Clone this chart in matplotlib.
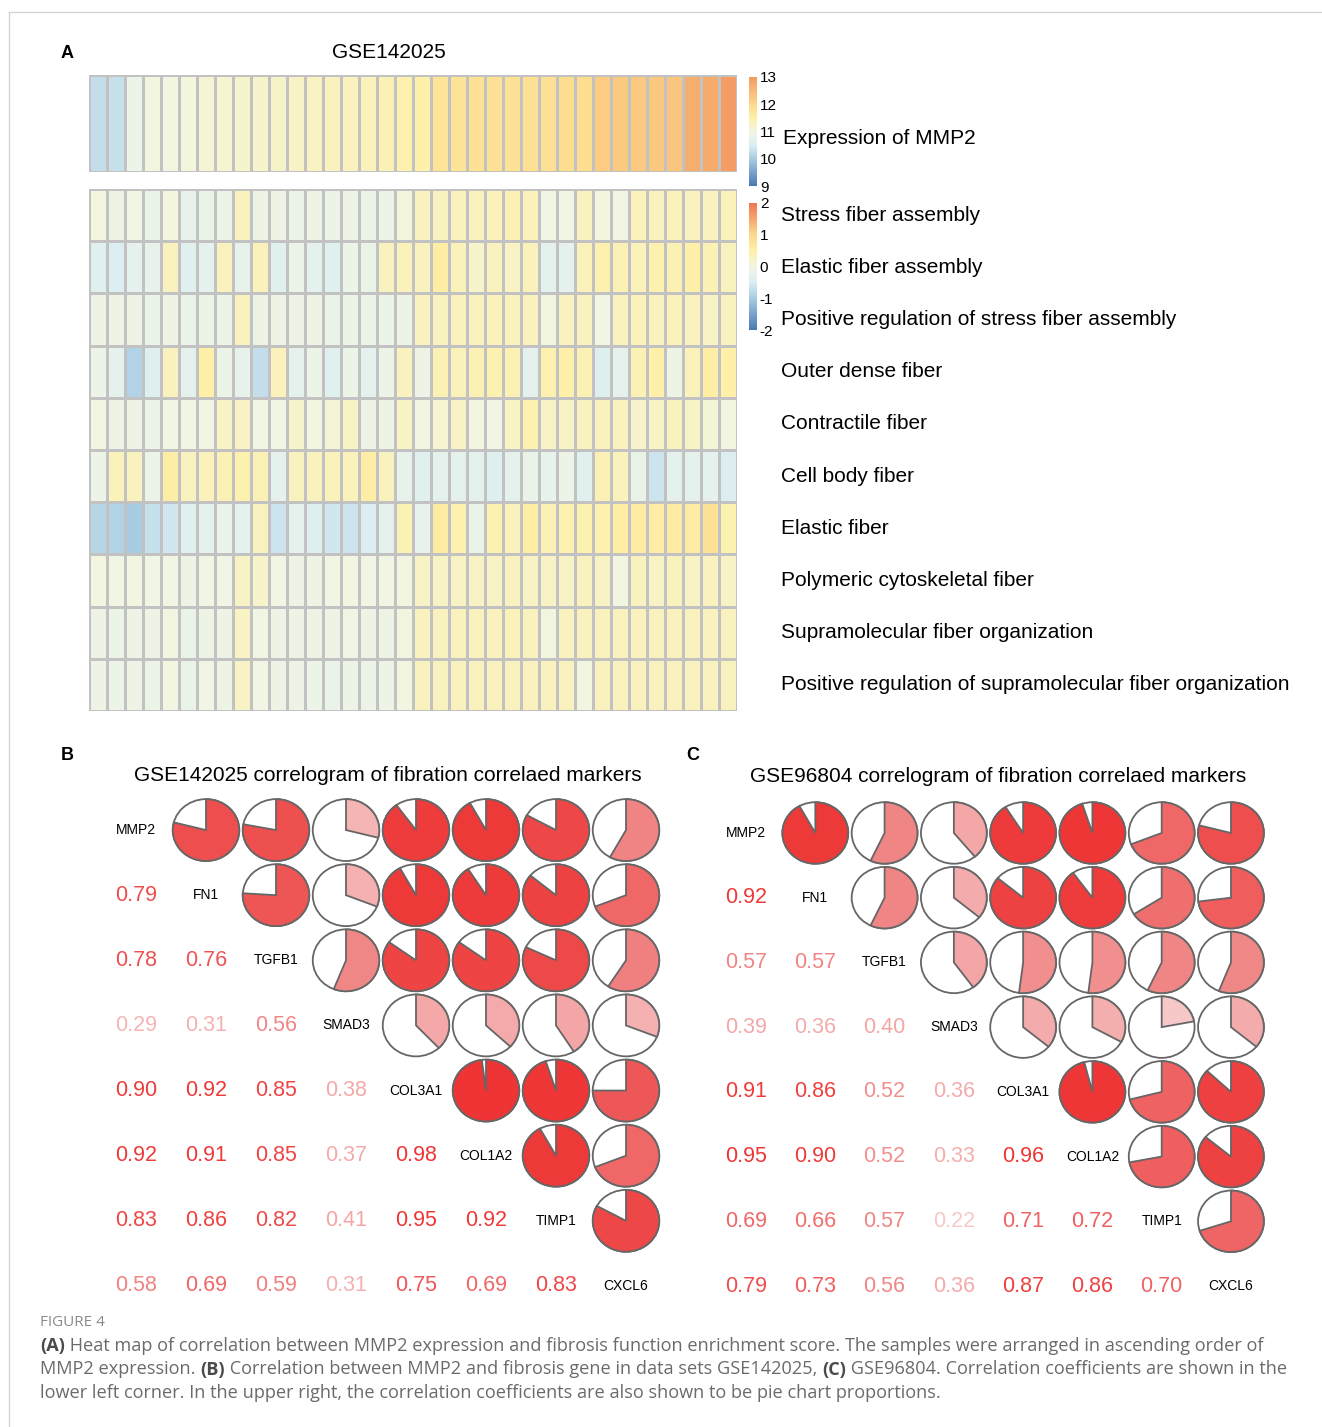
import numpy as np
import matplotlib
matplotlib.use('Agg')
import matplotlib.pyplot as plt
from matplotlib.colors import LinearSegmentedColormap, Normalize
from matplotlib.cm import ScalarMappable
from matplotlib.patches import Wedge, Circle
from matplotlib.lines import Line2D

plt.rcParams['font.family'] = ['Liberation Sans', 'DejaVu Sans']
plt.rcParams['axes.unicode_minus'] = False

W, H = 1322, 1427

# ---- panel A data: MMP2 expression (samples sorted ascending) ----
mmp2_expr = [10.25, 10.3, 10.85, 11.0, 11.02, 11.05, 11.12, 11.15, 11.18, 11.2, 11.22, 11.25,
             11.27, 11.3, 11.33, 11.35, 11.38, 11.45, 11.48, 11.75, 11.78, 11.8, 11.8, 11.82,
             11.85, 11.85, 11.88, 11.9, 12.2, 12.22, 12.24, 12.26, 12.3, 12.68, 12.72, 12.95]

terms = ['Stress fiber assembly', 'Elastic fiber assembly',
         'Positive regulation of stress fiber assembly', 'Outer dense fiber',
         'Contractile fiber', 'Cell body fiber', 'Elastic fiber',
         'Polymeric cytoskeletal fiber', 'Supramolecular fiber organization',
         'Positive regulation of supramolecular fiber organization']

stress_fiber_assembly = [0.05, -0.1, -0.05, -0.2, 0.05, -0.25, -0.2, -0.15, 0.3, -0.1, -0.1, -0.15,
                         -0.1, -0.15, -0.1, -0.15, -0.15, 0.05, 0.3, 0.3, 0.3, 0.3, 0.35, 0.4,
                         0.35, -0.05, -0.05, 0.3, 0.05, -0.05, 0.35, 0.3, 0.35, 0.3, 0.3, 0.35]
elastic_fiber_assembly = [-0.4, -0.5, -0.3, -0.25, 0.3, -0.4, -0.3, 0.3, -0.25, 0.35, -0.4, -0.15,
                          -0.3, -0.4, -0.15, -0.2, 0.3, 0.35, 0.3, 0.55, 0.35, 0.2, 0.3, 0.25,
                          0.35, -0.3, -0.3, 0.35, 0.45, 0.4, 0.35, 0.45, 0.4, 0.5, 0.4, 0.3]
pos_reg_stress_fiber = [-0.1, -0.1, -0.1, -0.2, -0.1, -0.2, -0.1, -0.15, 0.3, -0.1, -0.1, -0.1,
                        -0.1, -0.2, -0.1, -0.15, -0.15, -0.1, 0.3, 0.3, 0.3, 0.3, 0.35, 0.3,
                        0.3, 0.0, 0.3, 0.3, -0.05, 0.3, 0.35, 0.3, 0.35, 0.3, 0.25, 0.3]
outer_dense_fiber = [-0.15, -0.3, -0.9, -0.45, 0.3, -0.3, 0.5, -0.15, -0.25, -0.75, 0.35, -0.3,
                     -0.15, -0.4, -0.15, -0.3, -0.15, 0.3, -0.1, 0.4, 0.35, 0.4, 0.45, 0.4,
                     -0.3, 0.45, 0.5, 0.4, -0.45, -0.3, 0.4, 0.5, -0.1, 0.35, 0.55, 0.5]
contractile_fiber = [0.0, -0.1, -0.1, -0.15, -0.05, -0.05, -0.05, 0.25, 0.25, -0.05, -0.05, 0.2,
                     0.0, 0.1, 0.25, -0.1, -0.1, 0.25, 0.0, 0.15, 0.25, 0.0, -0.05, 0.25,
                     0.45, 0.25, 0.25, 0.3, 0.3, 0.3, 0.2, 0.25, 0.3, 0.25, 0.1, 0.0]
cell_body_fiber = [-0.15, 0.35, 0.3, -0.15, 0.55, 0.3, 0.35, 0.4, 0.45, 0.4, -0.3, 0.3,
                   0.3, 0.35, 0.35, 0.55, 0.3, -0.25, -0.4, -0.3, -0.3, -0.3, -0.45, -0.3,
                   -0.2, -0.25, -0.15, -0.4, 0.4, 0.35, -0.2, -0.65, -0.3, -0.3, -0.3, -0.5]
elastic_fiber = [-0.85, -0.9, -1.0, -0.7, -0.6, -0.4, -0.3, -0.2, -0.3, 0.3, -0.65, -0.3,
                 -0.45, -0.6, -0.65, -0.5, -0.3, 0.4, -0.25, 0.6, 0.45, -0.2, 0.45, 0.35,
                 0.55, 0.4, 0.45, 0.45, 0.45, 0.55, 0.6, 0.55, 0.6, 0.6, 0.8, 0.45]
polymeric_fiber = [0.0, -0.05, 0.0, -0.05, -0.05, -0.1, -0.05, -0.05, 0.25, 0.2, -0.05, -0.1,
                   -0.1, -0.05, 0.0, -0.05, -0.05, 0.0, 0.25, 0.25, 0.25, 0.25, 0.25, 0.3,
                   0.25, 0.25, 0.25, 0.3, 0.25, 0.0, 0.3, 0.25, 0.3, 0.25, 0.3, 0.25]
supramolecular_org = [-0.1, -0.15, -0.1, -0.1, 0.0, -0.2, -0.1, -0.1, 0.25, -0.05, -0.1, -0.1,
                      -0.1, -0.1, -0.05, -0.1, -0.1, 0.0, 0.3, 0.3, 0.3, 0.3, 0.3, 0.35,
                      0.3, 0.0, 0.3, 0.3, 0.3, 0.3, 0.3, 0.3, 0.3, 0.3, 0.3, 0.3]
pos_reg_supramolecular = [-0.1, -0.15, -0.1, -0.15, 0.0, -0.2, -0.05, -0.1, 0.25, -0.05, -0.1, -0.1,
                          -0.15, -0.2, -0.1, -0.15, -0.1, 0.0, 0.3, 0.3, 0.3, 0.3, 0.3, 0.3,
                          0.3, 0.3, 0.3, 0.0, 0.3, 0.3, 0.3, 0.3, 0.3, 0.3, 0.3, 0.3]

# ---- panels B / C data: lower-triangle correlation coefficients ----
genes = ['MMP2', 'FN1', 'TGFB1', 'SMAD3', 'COL3A1', 'COL1A2', 'TIMP1', 'CXCL6']
gse142025_lower = [[0.79],
                   [0.78, 0.76],
                   [0.29, 0.31, 0.56],
                   [0.90, 0.92, 0.85, 0.38],
                   [0.92, 0.91, 0.85, 0.37, 0.98],
                   [0.83, 0.86, 0.82, 0.41, 0.95, 0.92],
                   [0.58, 0.69, 0.59, 0.31, 0.75, 0.69, 0.83]]
gse96804_lower = [[0.92],
                  [0.57, 0.57],
                  [0.39, 0.36, 0.40],
                  [0.91, 0.86, 0.52, 0.36],
                  [0.95, 0.90, 0.52, 0.33, 0.96],
                  [0.69, 0.66, 0.57, 0.22, 0.71, 0.72],
                  [0.79, 0.73, 0.56, 0.36, 0.87, 0.86, 0.70]]


def fx(px):
    return px / W


def fy(py):
    return 1 - py / H


def ax_px(left, top, right, bottom):
    return [fx(left), fy(bottom), (right - left) / W, (bottom - top) / H]


def anchored_cmap(name, vmin, vmax, stops):
    pts = [((v - vmin) / (vmax - vmin), c) for v, c in stops]
    return LinearSegmentedColormap.from_list(name, pts)


expr_cmap = anchored_cmap('expr', 9, 13, [(9, '#4A78B5'), (10, '#A8CCE2'), (10.5, '#DCEEF2'),
                                          (11, '#F2F6E2'), (11.5, '#FEF0A9'), (12, '#FDD98A'),
                                          (13, '#F39A62')])
score_cmap = anchored_cmap('score', -2, 2, [(-2, '#4A78B5'), (-1, '#A8CCE2'), (-0.5, '#DCEEF2'),
                                            (0, '#F2F6E2'), (0.5, '#FEF0A9'), (1, '#FDD98A'),
                                            (2, '#EE7550')])
corr_cmap = anchored_cmap('corr', 0, 1, [(0, '#FFFFFF'), (0.2, '#F8CDCD'), (0.3, '#F5B2B2'),
                                         (0.4, '#F4A6A6'), (0.55, '#F08A8A'), (0.7, '#EF6565'),
                                         (0.78, '#EE5050'), (0.9, '#EE3B3B'), (1.0, '#EE3232')])

fig = plt.figure(figsize=(W / 100, H / 100), dpi=100)

# frame lines
fig.add_artist(Line2D([fx(9), 1], [fy(12), fy(12)], color='#D4D4D4', lw=1))
fig.add_artist(Line2D([fx(9), fx(9)], [fy(12), 0], color='#D4D4D4', lw=1))

# ---- panel A ----
fig.text(fx(67), fy(54), 'A', fontsize=13, fontweight='bold', ha='center', va='center')
fig.text(fx(389), fy(53), 'GSE142025', fontsize=15, ha='center', va='center')

grid_color = '#C2C2C2'
n_samples = len(mmp2_expr)

ax_top = fig.add_axes(ax_px(89, 75, 737, 172))
ax_top.pcolormesh(np.arange(n_samples + 1), [0, 1], np.array([mmp2_expr]), cmap=expr_cmap,
                  vmin=9, vmax=13, edgecolors=grid_color, linewidth=1)
ax_top.set_xlim(0, n_samples)
ax_top.set_ylim(0, 1)
ax_top.axis('off')

scores = np.array([stress_fiber_assembly, elastic_fiber_assembly, pos_reg_stress_fiber,
                   outer_dense_fiber, contractile_fiber, cell_body_fiber, elastic_fiber,
                   polymeric_fiber, supramolecular_org, pos_reg_supramolecular])
ax_hm = fig.add_axes(ax_px(89, 189, 737, 711))
ax_hm.pcolormesh(np.arange(n_samples + 1), np.arange(len(terms) + 1), scores, cmap=score_cmap,
                 vmin=-2, vmax=2, edgecolors=grid_color, linewidth=1)
ax_hm.set_xlim(0, n_samples)
ax_hm.set_ylim(len(terms), 0)
ax_hm.axis('off')
label_trans = matplotlib.transforms.blended_transform_factory(
    matplotlib.transforms.IdentityTransform(), ax_hm.transData)
for i, term in enumerate(terms):
    ax_hm.text(781, i + 0.5, term, fontsize=15, va='center', ha='left', transform=label_trans)

fig.text(fx(783), fy(139), 'Expression of MMP2', fontsize=15, va='center', ha='left')

cax1 = fig.add_axes(ax_px(749, 77, 757, 186))
cb1 = fig.colorbar(ScalarMappable(Normalize(9, 13), expr_cmap), cax=cax1, ticks=[9, 10, 11, 12, 13])
cax2 = fig.add_axes(ax_px(749, 203, 757, 330))
cb2 = fig.colorbar(ScalarMappable(Normalize(-2, 2), score_cmap), cax=cax2, ticks=[-2, -1, 0, 1, 2])
for cb in (cb1, cb2):
    cb.outline.set_visible(False)
    cb.ax.tick_params(length=0, labelsize=11, pad=2)


# ---- panels B and C: correlograms ----
def correlogram(box, lower, title, title_xy, label, label_xy):
    n = len(genes)
    mat = np.eye(n)
    for i, row in enumerate(lower, start=1):
        for j, v in enumerate(row):
            mat[i, j] = v
            mat[j, i] = v
    ax = fig.add_axes(ax_px(*box))
    ax.set_xlim(0, n)
    ax.set_ylim(0, n)
    ax.axis('off')
    r = 0.475
    for i in range(n):
        yc = n - i - 0.5
        for j in range(n):
            xc = j + 0.5
            v = mat[i, j]
            if i == j:
                ax.text(xc, yc, genes[i], fontsize=10, ha='center', va='center')
            elif i > j:
                ax.text(xc, yc, f'{v:.2f}', fontsize=15.5, ha='center', va='center',
                        color=corr_cmap(v))
            else:
                ax.add_patch(Circle((xc, yc), r, facecolor='white', edgecolor='#666666', lw=1.3))
                ax.add_patch(Wedge((xc, yc), r, 90 - 360 * v, 90, facecolor=corr_cmap(v),
                                   edgecolor='#666666', lw=1.3))
    fig.text(fx(title_xy[0]), fy(title_xy[1]), title, fontsize=15, ha='center', va='center')
    fig.text(fx(label_xy[0]), fy(label_xy[1]), label, fontsize=13, fontweight='bold',
             ha='center', va='center')


correlogram((101, 797.5, 661, 1318.5), gse142025_lower,
            'GSE142025 correlogram of fibration correlaed markers', (388, 775), 'B', (67, 755))
correlogram((711.4, 800.6, 1265.6, 1318.4), gse96804_lower,
            'GSE96804 correlogram of fibration correlaed markers', (998, 777), 'C', (693, 755))

# ---- caption ----
cap_font = ['Open Sans', 'DejaVu Sans']
fig.text(fx(40), fy(1322), 'FIGURE 4', fontsize=11, color='#8A8A8A', family=cap_font,
         va='center', ha='left')

caption = [
    [('(A)', True), (' Heat map of correlation between MMP2 expression and fibrosis function '
                     'enrichment score. The samples were arranged in ascending order of', False)],
    [('MMP2 expression. ', False), ('(B)', True),
     (' Correlation between MMP2 and fibrosis gene in data sets GSE142025, ', False),
     ('(C)', True), (' GSE96804. Correlation coefficients are shown in the', False)],
    [('lower left corner. In the upper right, the correlation coefficients are also shown '
      'to be pie chart proportions.', False)],
]
renderer = fig.canvas.get_renderer()
for k, line in enumerate(caption):
    x = 40
    y = 1346 + k * 23.5
    for seg, bold in line:
        t = fig.text(fx(x), fy(y), seg, fontsize=13.1, family=cap_font,
                     fontweight='bold' if bold else 'normal',
                     color='#4A4A4A' if bold else '#6A6A6A', va='center', ha='left')
        x += t.get_window_extent(renderer).width

fig.savefig('out.png', dpi=100)
